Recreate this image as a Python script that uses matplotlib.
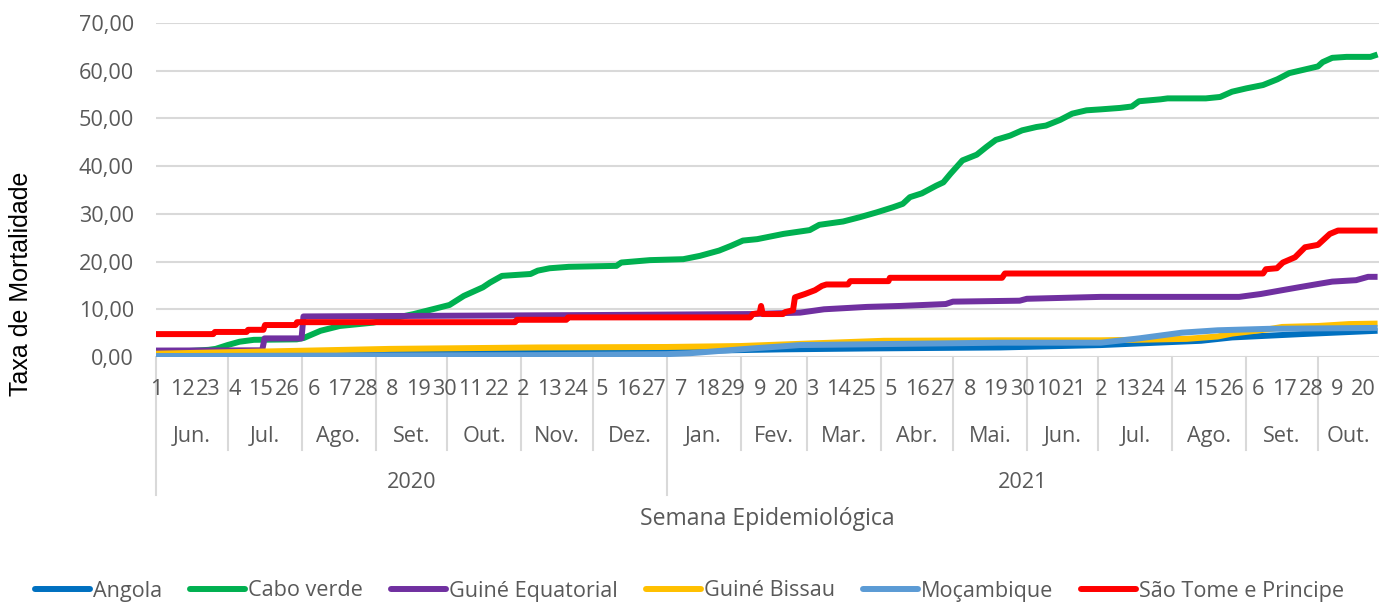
"""
Taxa de mortalidade acumulada (PALOP) por semana epidemiológica, Jun 2020 - Out 2021.
"""
import datetime as dt
import matplotlib
matplotlib.use("Agg")
import matplotlib.pyplot as plt

# ── Data (x = days since 1 Jun 2020) ─────────────────────────────────────────

START = dt.date(2020, 6, 1)
N_DAYS = 512

SERIES = ["Angola", "Cabo verde", "Guiné Equatorial", "Guiné Bissau",
          "Moçambique", "São Tome e Principe"]
COLORS = ["#0070C0", "#00B050", "#7030A0", "#FFC000", "#5B9BD5", "#FF0000"]

ang_days = [0, 30, 60, 90, 120, 186, 228, 262, 300, 354, 396, 438, 451, 480, 512]
ang_vals = [0.2, 0.4, 0.7, 0.9, 1.0, 1.2, 1.3, 1.6, 1.8, 2.0, 2.5, 3.4, 4.1, 4.8, 5.5]

cv_days = [0, 12, 22, 25, 30, 35, 41, 59, 62, 69, 77, 91, 108, 123, 129, 137, 140,
           145, 157, 160, 165, 173, 193, 195, 207, 221, 228, 236, 241, 246, 252,
           257, 263, 274, 278, 288, 295, 302, 309, 313, 316, 321, 327, 330, 333,
           338, 344, 348, 352, 358, 363, 369, 373, 379, 384, 390, 396, 404, 409,
           412, 421, 424, 440, 446, 451, 457, 464, 470, 475, 481, 487, 489, 493,
           499, 509, 512]
cv_vals = [0.9, 1.2, 1.5, 1.7, 2.5, 3.2, 3.6, 3.7, 4.0, 5.5, 6.5, 7.2, 9.0, 10.9,
           12.8, 14.6, 15.6, 17.0, 17.4, 18.1, 18.6, 18.9, 19.1, 19.8, 20.3, 20.5,
           21.2, 22.3, 23.3, 24.4, 24.7, 25.2, 25.8, 26.6, 27.7, 28.4, 29.3, 30.3,
           31.4, 32.1, 33.5, 34.3, 35.9, 36.6, 38.4, 41.2, 42.4, 44.0, 45.5, 46.4,
           47.5, 48.2, 48.5, 49.7, 51.0, 51.7, 51.9, 52.2, 52.5, 53.6, 54.0, 54.2,
           54.2, 54.5, 55.6, 56.3, 57.0, 58.2, 59.5, 60.2, 60.9, 61.8, 62.7, 62.9,
           62.9, 63.4]

ge_days = [0, 44.5, 45.5, 61, 61.8, 186, 249, 270, 280, 298, 312, 331, 334, 362,
           365, 396, 454, 463, 472, 480, 487, 493, 503, 508, 512]
ge_vals = [1.35, 1.4, 3.9, 3.9, 8.5, 8.8, 9.0, 9.3, 10.0, 10.5, 10.7, 11.1, 11.6,
           11.8, 12.2, 12.6, 12.6, 13.2, 14.0, 14.7, 15.3, 15.8, 16.1, 16.8, 16.8]

gb_days = [0, 60, 98, 160, 214, 245, 305, 354, 396, 410, 432, 445, 451, 466, 472,
           487, 500, 512]
gb_vals = [0.7, 1.3, 1.7, 2.0, 2.1, 2.3, 3.4, 3.5, 3.5, 3.6, 3.8, 4.3, 4.9, 5.8,
           6.3, 6.5, 6.9, 7.0]

moz_days = [0, 160, 214, 224, 250, 270, 354, 396, 412, 430, 445, 466, 512]
moz_vals = [0.2, 0.4, 0.6, 0.8, 1.8, 2.5, 3.0, 3.0, 3.9, 5.1, 5.6, 5.9, 6.1]

stp_days = [0, 24, 24.7, 38, 38.6, 45, 45.7, 58.5, 59.1, 150.5, 151.3, 172, 172.7,
            249, 250.2, 253, 253.6, 254.3, 262.8, 263.6, 267, 267.8, 272, 276.2,
            279.1, 281, 290, 291, 307, 307.6, 354.6, 355.8, 464, 465.2, 469.8,
            472.3, 477.4, 481.6, 487, 492, 495.4, 512]
stp_vals = [4.8, 4.8, 5.25, 5.25, 5.7, 5.7, 6.7, 6.7, 7.3, 7.3, 7.8, 7.8, 8.3,
            8.3, 9.0, 9.2, 10.7, 9.0, 9.0, 9.4, 9.8, 12.5, 13.2, 14.0, 14.9, 15.2,
            15.2, 15.9, 15.9, 16.6, 16.6, 17.5, 17.5, 18.4, 18.6, 19.8, 20.9, 23.0,
            23.5, 25.8, 26.5, 26.5]

DATA = [(ang_days, ang_vals), (cv_days, cv_vals), (ge_days, ge_vals),
        (gb_days, gb_vals), (moz_days, moz_vals), (stp_days, stp_vals)]

MONTHS = ["Jan.", "Fev.", "Mar.", "Abr.", "Mai.", "Jun.", "Jul.", "Ago.",
          "Set.", "Out.", "Nov.", "Dez."]
Y_TICKS = [0, 10, 20, 30, 40, 50, 60, 70]

# ── Figure ───────────────────────────────────────────────────────────────────

W, H = 1379, 602
GREY = "#595959"
GRID = "#D9D9D9"
FONT = ["Open Sans", "DejaVu Sans"]
FS = 15.6

fig = plt.figure(figsize=(W / 100, H / 100), dpi=100)
ax_l, ax_r, ax_t, ax_b = 156, 1379, 23, 357
ax = fig.add_axes([ax_l / W, (H - ax_b) / H, (ax_r - ax_l) / W, (ax_b - ax_t) / H])


def ay(py):
    """pixel row -> axes fraction"""
    return (ax_b - py) / (ax_b - ax_t)


for name, col, (d, v) in zip(SERIES, COLORS, DATA):
    ax.plot(d, v, color=col, lw=4.3, label=name, solid_joinstyle="round",
            solid_capstyle="butt", zorder=3)

ax.set_xlim(0, N_DAYS + 0.6)
ax.set_ylim(0, 70)
ax.set_yticks(Y_TICKS)
ax.set_yticklabels([f"{t:.2f}".replace(".", ",") for t in Y_TICKS],
                   family=FONT, fontsize=FS, color=GREY)
ax.tick_params(axis="y", length=0, pad=16)
ax.set_xticks([])
ax.grid(axis="y", color=GRID, lw=1.5)
ax.set_axisbelow(True)
for s in ax.spines.values():
    s.set_visible(False)

xt = ax.get_xaxis_transform()

# day labels every 11 days
for d in range(0, N_DAYS + 1, 11):
    day = START + dt.timedelta(days=d)
    ax.text(d, ay(395), str(day.day), transform=xt, ha="center", va="baseline",
            family=FONT, fontsize=FS, color=GREY)

# month / year groups
bounds = []
cur = START
while (cur - START).days <= N_DAYS:
    bounds.append(((cur - START).days, cur))
    cur = dt.date(cur.year + cur.month // 12, cur.month % 12 + 1, 1)
for i, (d0, date) in enumerate(bounds):
    d1 = bounds[i + 1][0] if i + 1 < len(bounds) else N_DAYS + 0.6
    ax.text((d0 + d1) / 2, ay(442), MONTHS[date.month - 1], transform=xt,
            ha="center", va="baseline", family=FONT, fontsize=FS, color=GREY)
    low = ay(495) if (date.month == 1 or d0 == 0) else ay(450)
    ax.plot([d0, d0], [0, low], transform=xt, color=GRID, lw=1.5, clip_on=False)

years = sorted({b[1].year for b in bounds})
for yr in years:
    ds = [b[0] for b in bounds if b[1].year == yr]
    d0 = ds[0]
    d1 = [b[0] for b in bounds if b[1].year == yr + 1][0] if yr != years[-1] else N_DAYS + 0.6
    ax.text((d0 + d1) / 2, ay(488), str(yr), transform=xt, ha="center",
            va="baseline", family=FONT, fontsize=FS, color=GREY)

ax.text(0.5, ay(525), "Semana Epidemiológica", transform=ax.transAxes,
        ha="center", va="baseline", family=FONT, fontsize=16.6, color=GREY)
fig.text(21 / W, (H - 284) / H, "Taxa de Mortalidade", rotation=90,
         ha="center", va="center", family=["Liberation Sans", "DejaVu Sans"],
         fontsize=18, color="black")

leg = fig.legend(loc="center", bbox_to_anchor=(0.5, (H - 591) / H), ncol=6,
                 frameon=False, handlelength=2.55, handletextpad=0.12,
                 columnspacing=1.3, prop={"family": FONT, "size": FS})
for t in leg.get_texts():
    t.set_color(GREY)
for ln in leg.get_lines():
    ln.set_linewidth(4.3)
    ln.set_solid_capstyle("round")

fig.savefig("out.png", dpi=100)
